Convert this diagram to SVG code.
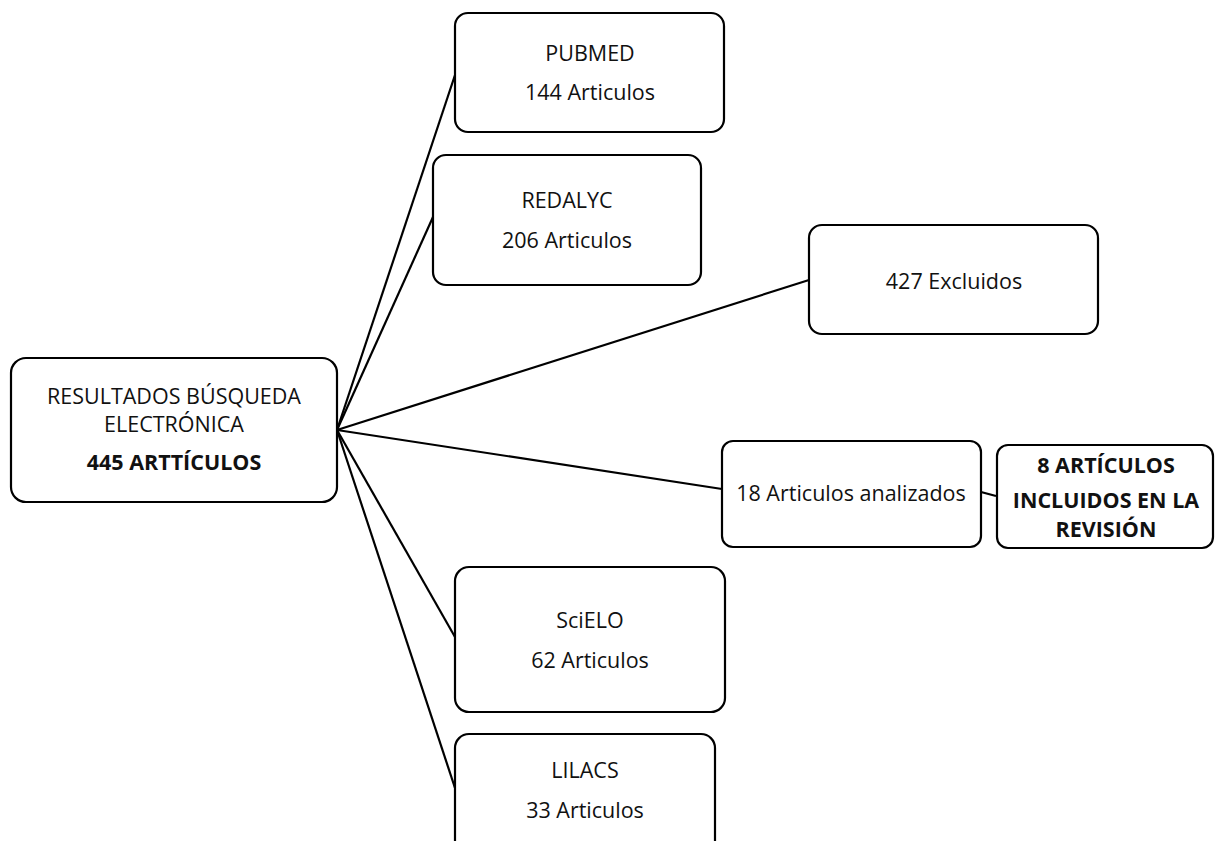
<svg xmlns="http://www.w3.org/2000/svg" width="1217" height="841" viewBox="0 0 1217 841">
<style>
.box{fill:#fff;stroke:#000;stroke-width:2.2}
.t{font-family:"Open Sans","Liberation Sans",sans-serif;font-size:21.5px;fill:#111;text-anchor:middle}
.b{font-weight:bold}
.c{stroke:#000;stroke-width:2.2;fill:none}
</style>
<rect width="1217" height="841" fill="#fff"/>
<g id="connectors">
<line class="c" x1="337" y1="430" x2="455" y2="75"/>
<line class="c" x1="337" y1="430" x2="433" y2="217"/>
<line class="c" x1="337" y1="430" x2="809" y2="280"/>
<line class="c" x1="337" y1="430" x2="722" y2="489"/>
<line class="c" x1="337" y1="430" x2="455" y2="637"/>
<line class="c" x1="337" y1="430" x2="455" y2="788"/>
<line class="c" x1="981" y1="492" x2="996" y2="496"/>
</g>
<g id="main">
<rect class="box" x="11" y="358" width="326" height="144" rx="15"/>
<text class="t" x="174" y="404">RESULTADOS BÚSQUEDA</text>
<text class="t" x="174" y="432">ELECTRÓNICA</text>
<text class="t b" x="174" y="470">445 ARTTÍCULOS</text>
</g>
<g id="pubmed">
<rect class="box" x="455" y="13" width="269" height="119" rx="13"/>
<text class="t" x="590" y="61">PUBMED</text>
<text class="t" x="590" y="100">144 Articulos</text>
</g>
<g id="redalyc">
<rect class="box" x="433" y="155" width="268" height="130" rx="13"/>
<text class="t" x="567" y="208">REDALYC</text>
<text class="t" x="567" y="248">206 Articulos</text>
</g>
<g id="excluidos">
<rect class="box" x="809" y="225" width="289" height="109" rx="13"/>
<text class="t" x="954" y="289">427 Excluidos</text>
</g>
<g id="analizados">
<rect class="box" x="722" y="441" width="259" height="106" rx="11"/>
<text class="t" x="851" y="501">18 Articulos analizados</text>
</g>
<g id="incluidos">
<rect class="box" x="997" y="445" width="216" height="103" rx="11"/>
<text class="t b" x="1106" y="473">8 ARTÍCULOS</text>
<text class="t b" x="1106" y="508">INCLUIDOS EN LA</text>
<text class="t b" x="1106" y="537">REVISIÓN</text>
</g>
<g id="scielo">
<rect class="box" x="455" y="567" width="270" height="145" rx="14"/>
<text class="t" x="590" y="628">SciELO</text>
<text class="t" x="590" y="668">62 Articulos</text>
</g>
<g id="lilacs">
<rect class="box" x="455" y="734" width="260" height="130" rx="14"/>
<text class="t" x="585" y="778">LILACS</text>
<text class="t" x="585" y="818">33 Articulos</text>
</g>
</svg>
